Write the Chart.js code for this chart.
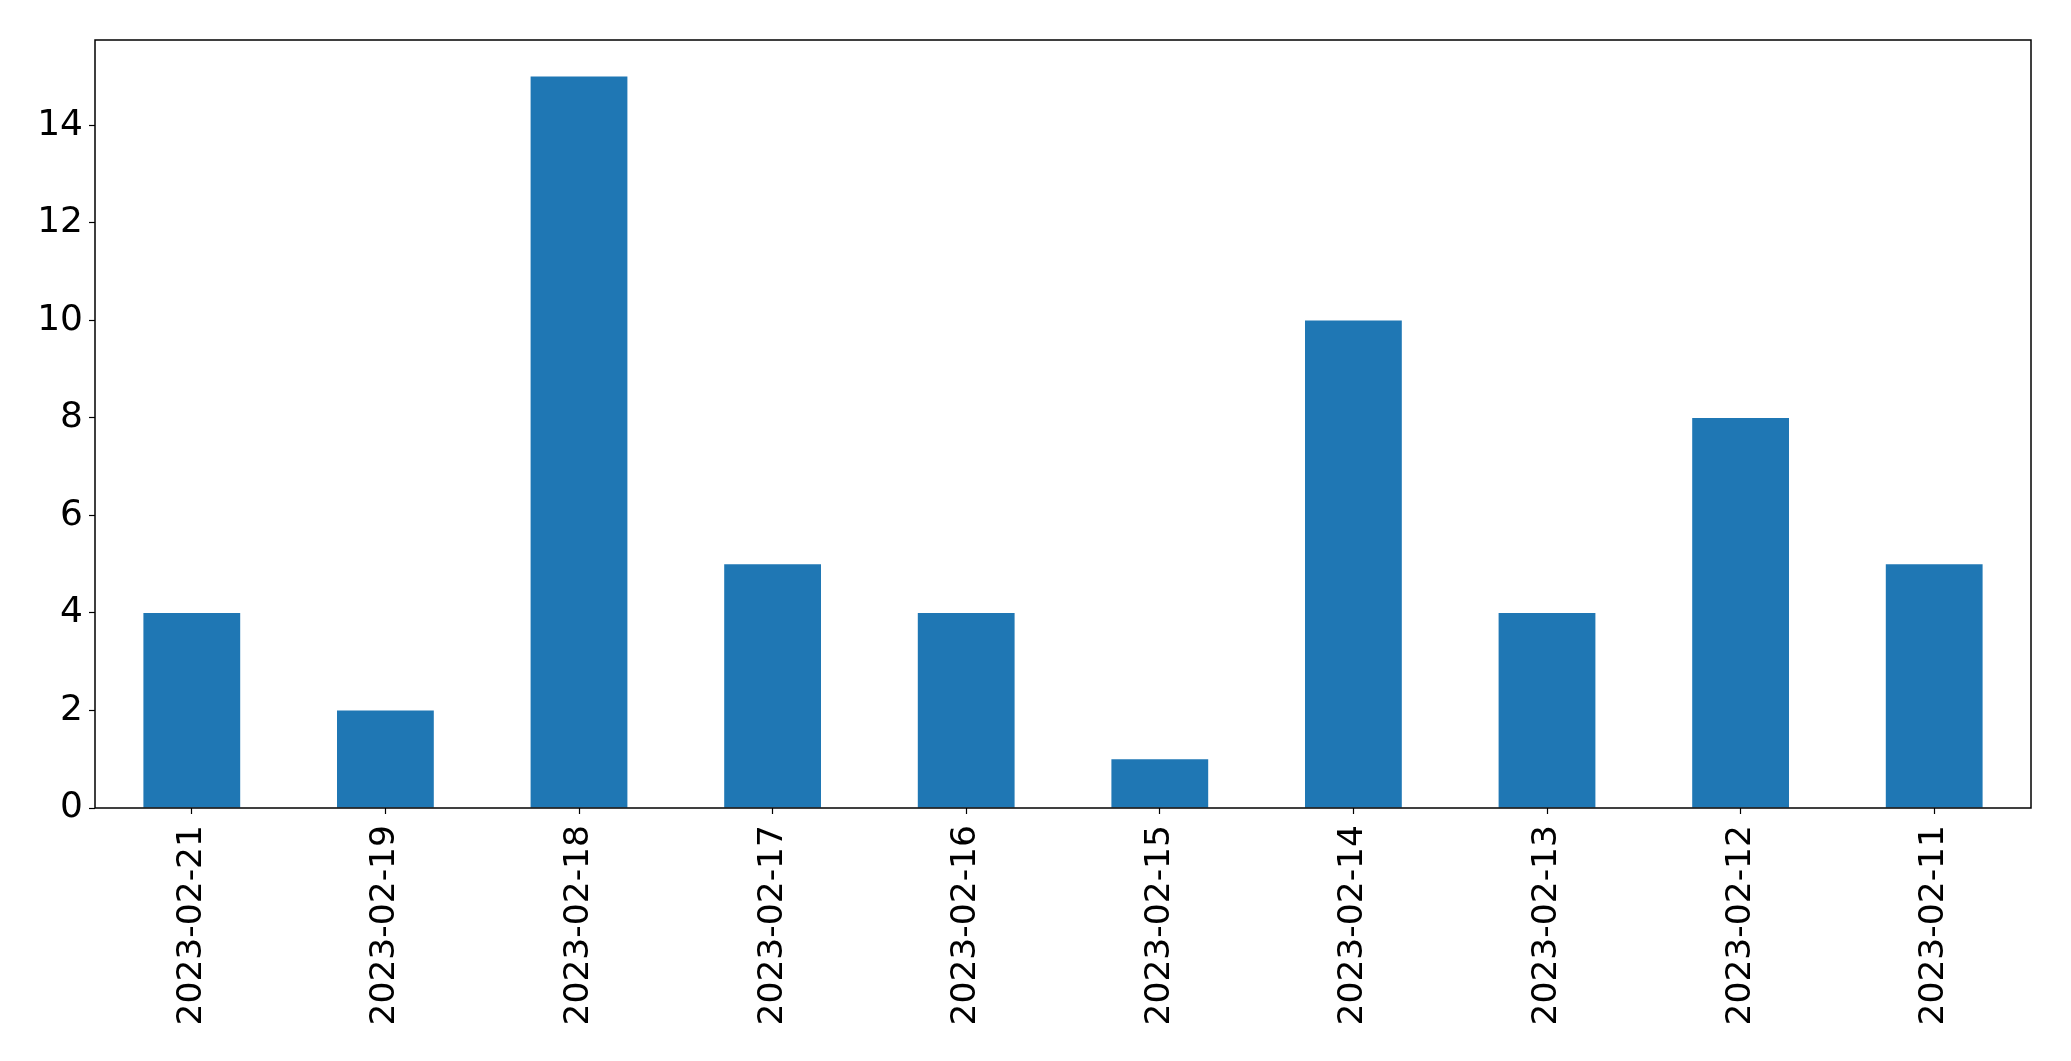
<!DOCTYPE html>
<html>
<head>
<meta charset="utf-8">
<script src="https://cdn.jsdelivr.net/npm/chart.js@4/dist/chart.umd.min.js"></script>
<style>
  html, body { margin: 0; padding: 0; background: #ffffff; }
  #wrap { width: 2071px; height: 1061px; }
</style>
</head>
<body>
<div id="wrap"><canvas id="c" width="2071" height="1061"></canvas></div>
<script>
const categories = ["2023-02-21", "2023-02-19", "2023-02-18", "2023-02-17", "2023-02-16",
                    "2023-02-15", "2023-02-14", "2023-02-13", "2023-02-12", "2023-02-11"];
const values = [4, 2, 15, 5, 4, 1, 10, 4, 8, 5];
const yTicks = [0, 2, 4, 6, 8, 10, 12, 14];
const yMax = 15.75;

const frame = {
  id: 'frame',
  afterDraw(chart) {
    const a = chart.chartArea, ctx = chart.ctx;
    ctx.save();
    ctx.strokeStyle = '#000';
    ctx.lineWidth = 1.5;
    ctx.strokeRect(Math.round(a.left), Math.round(a.top), Math.round(a.right - a.left), Math.round(a.bottom - a.top));
    ctx.restore();
  }
};

const xFont = { family: '"DejaVu Sans", sans-serif', size: 34.5 };
const yFont = { family: '"DejaVu Sans", sans-serif', size: 36 };

new Chart(document.getElementById('c'), {
  type: 'bar',
  data: {
    labels: categories,
    datasets: [{
      data: values,
      backgroundColor: '#1f77b4',
      borderWidth: 0,
      barPercentage: 0.5,
      categoryPercentage: 1.0
    }]
  },
  options: {
    responsive: false,
    animation: false,
    devicePixelRatio: 1,
    layout: { padding: { left: 0, top: 40, right: 40, bottom: 0 } },
    plugins: { legend: { display: false }, tooltip: { enabled: false } },
    scales: {
      x: {
        offset: true,
        grid: { display: true, offset: false, drawOnChartArea: false, tickLength: 6, color: '#000', tickWidth: 1.2 },
        border: { display: false },
        ticks: { color: '#000', font: xFont, minRotation: 90, maxRotation: 90, padding: 11, autoSkip: false },
        afterFit(scale) { scale.height = 253; }
      },
      y: {
        min: 0,
        max: yMax,
        grid: { display: true, drawOnChartArea: false, tickLength: 6, color: '#000', tickWidth: 1.2 },
        border: { display: false },
        afterBuildTicks(scale) { scale.ticks = yTicks.map(v => ({ value: v })); },
        ticks: { color: '#000', font: yFont, padding: 6 },
        afterFit(scale) { scale.width = 95; }
      }
    }
  },
  plugins: [frame]
});
</script>
</body>
</html>
